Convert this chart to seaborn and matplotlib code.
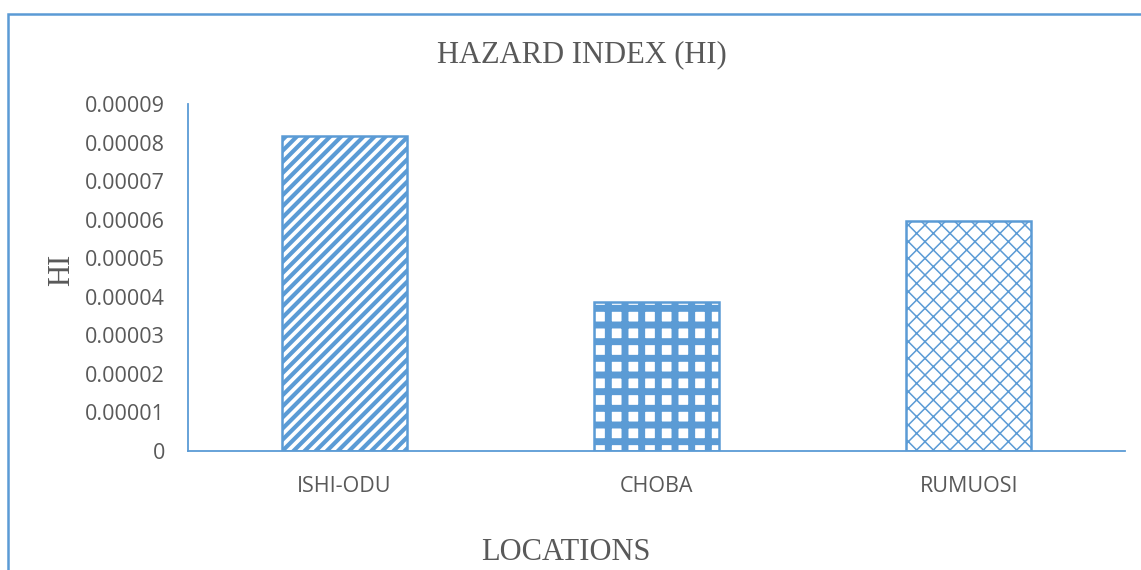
import matplotlib
matplotlib.use("Agg")
import matplotlib.pyplot as plt
from matplotlib.patches import Rectangle
import seaborn as sns
import pandas as pd

# Hazard index per sampling location
locations = ["ISHI-ODU", "CHOBA", "RUMUOSI"]
hazard_index = [0.0000817, 0.0000386, 0.0000597]
y_ticks = [0, 0.00001, 0.00002, 0.00003, 0.00004, 0.00005, 0.00006, 0.00007, 0.00008, 0.00009]
y_tick_labels = ["0", "0.00001", "0.00002", "0.00003", "0.00004", "0.00005",
                 "0.00006", "0.00007", "0.00008", "0.00009"]
hatches = ["///", "+", "xx"]
hatch_widths = [3.0, 5.0, 1.1]

BLUE = "#5B9BD5"
GREY = "#595959"

sns.set_style("white")
plt.rcParams["font.family"] = ["Open Sans", "DejaVu Sans"]
plt.rcParams["hatch.color"] = BLUE

df = pd.DataFrame({"Location": locations, "HI": hazard_index})

fig = plt.figure(figsize=(11.41, 5.70), dpi=100)
ax = fig.add_axes([188 / 1141, 1 - 451 / 570, (1125 - 188) / 1141, (451 - 104) / 570])

sns.barplot(data=df, x="Location", y="HI", color="white", edgecolor=BLUE,
            linewidth=1.8, width=0.4, ax=ax)

for bar, h, w in zip(ax.patches, hatches, hatch_widths):
    bar.set_hatch(h)
    bar.set_facecolor("white")
    bar.set_edgecolor(BLUE)
    if hasattr(bar, "set_hatch_linewidth"):
        bar.set_hatch_linewidth(w)

ax.set_ylim(0, 0.00009)
ax.set_yticks(y_ticks)
ax.set_yticklabels(y_tick_labels)
ax.set_xlim(-0.5, 2.5)
ax.tick_params(axis="both", length=0, labelsize=15.5, colors=GREY)
ax.tick_params(axis="x", pad=18)
ax.tick_params(axis="y", pad=16.5)
ax.set_xlabel("")
ax.set_ylabel("")

for side in ["top", "right"]:
    ax.spines[side].set_visible(False)
for side in ["left", "bottom"]:
    ax.spines[side].set_color(BLUE)
    ax.spines[side].set_linewidth(1.3)

serif = ["Liberation Serif", "DejaVu Serif"]
fig.text(582 / 1141, 1 - 55 / 570, "HAZARD INDEX (HI)", ha="center", va="center",
         fontsize=22, color=GREY, family=serif)
fig.text(566 / 1141, 1 - 553 / 570, "LOCATIONS", ha="center", va="center",
         fontsize=22, color=GREY, family=serif)
fig.text(62 / 1141, 1 - 270 / 570, "HI", ha="center", va="center", rotation=90,
         fontsize=22, color=GREY, family=serif)

# Outer chart frame, running off the right and bottom edges
fig.patches.append(Rectangle((8 / 1141, -0.2), 1.2, 1 - 14 / 570 + 0.2,
                             transform=fig.transFigure, fill=False,
                             edgecolor=BLUE, linewidth=1.8, zorder=0))

fig.savefig("out.png", dpi=100)
